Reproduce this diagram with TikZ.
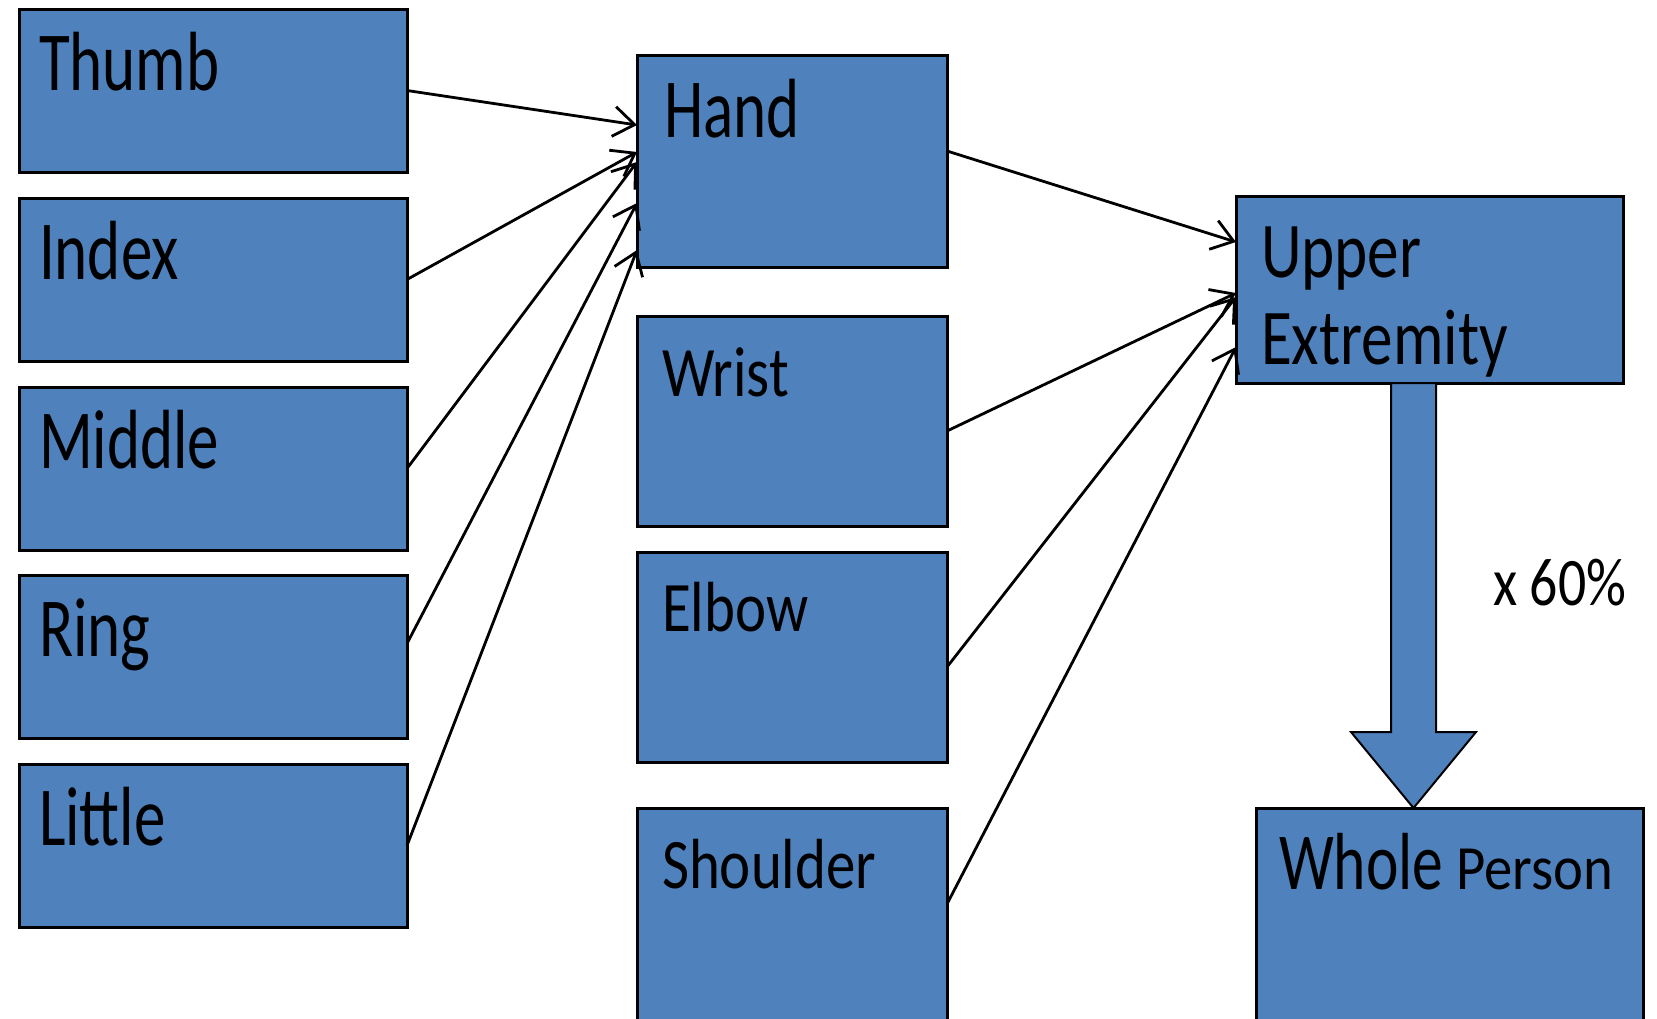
\documentclass[tikz,border=0pt]{standalone}
\usepackage{fontspec}
\usepackage{graphicx}
\setmainfont{Carlito}
\newfontfamily\fbig[FakeStretch=0.75]{Carlito}
\newfontfamily\fmid[FakeStretch=0.83]{Carlito}
\newfontfamily\fue[FakeStretch=0.80]{Carlito}
\newfontfamily\fwh[FakeStretch=0.76]{Carlito}
\newfontfamily\fpe[FakeStretch=0.90]{Carlito}
\newfontfamily\fpct[FakeStretch=0.82]{Carlito}
\usetikzlibrary{arrows.meta,calc}
\definecolor{boxblue}{RGB}{79,129,189}
\begin{document}
\begin{tikzpicture}[x=1pt,y=-1pt,
  box/.style={draw=black, line width=3pt, fill=boxblue, inner sep=0pt, outer sep=0pt, anchor=north west},
  fingerbox/.style={box, minimum width=388pt, minimum height=163pt},
  midbox/.style={box, minimum width=310pt},
  lbl/.style={inner sep=0pt, outer sep=0pt, anchor=base west},
  bigtxt/.style={lbl, font=\fbig\fontsize{84}{84}\selectfont},
  midtxt/.style={lbl, font=\fmid\fontsize{71}{71}\selectfont},
  uetxt/.style={lbl, font=\fue\fontsize{79}{79}\selectfont},
  conn/.style={line width=2.8pt, -{Straight Barb[length=21pt,width=30pt]}},
  bigarrow/.style={draw=black, line width=2pt, fill=boxblue, line join=miter}]
\useasboundingbox (0,0) rectangle (1657,1018);
\clip (0,0) rectangle (1657,1018);

% left column
\node[fingerbox] (thumb)  at (19,9)   {};
\node[fingerbox] (index)  at (19,198) {};
\node[fingerbox] (middle) at (19,387) {};
\node[fingerbox] (ring)   at (19,575) {};
\node[fingerbox] (little) at (19,764) {};

% middle column
\node[midbox, minimum height=212pt] (hand)     at (637,55)  {};
\node[midbox, minimum height=210pt] (wrist)    at (637,316) {};
\node[midbox, minimum height=210pt] (elbow)    at (637,552) {};
\node[midbox, minimum height=260pt] (shoulder) at (637,808) {};

% right column
\node[box, minimum width=387pt, minimum height=187pt] (ue)    at (1236,196) {};
\node[box, minimum width=387pt, minimum height=260pt] (whole) at (1256,808) {};

% labels
\node[bigtxt] (thumbt)  at ([shift={(20,81)}]thumb.north west)  {Thumb};
\node[bigtxt] (indext)  at ([shift={(20,81)}]index.north west)  {Index};
\node[bigtxt] (middlet) at ([shift={(20,81)}]middle.north west) {Middle};
\node[bigtxt] (ringt)   at ([shift={(20,81)}]ring.north west)   {Ring};
\node[bigtxt] (littlet) at ([shift={(20,81)}]little.north west) {Little};
\node[bigtxt] (handt)   at ([shift={(27,82)}]hand.north west)   {Hand};
\node[midtxt] (wristt)  at ([shift={(25,80)}]wrist.north west)  {Wrist};
\node[midtxt] (elbowt)  at ([shift={(25,79)}]elbow.north west)  {Elbow};
\node[midtxt] (shouldert) at ([shift={(25,80)}]shoulder.north west) {Shoulder};
\node[uetxt] (uet1) at ([shift={(25,81)}]ue.north west)  {Upper};
\node[uetxt] (uet2) at ([shift={(25,168)}]ue.north west) {Extremity};
\node[lbl] (wholet) at ([shift={(23,81)}]whole.north west)
  {{\fwh\fontsize{81}{81}\selectfont Whole}{\fpe\fontsize{63}{63}\selectfont\ Person}};

% connectors to hand
\draw[conn] (thumb.east) -- ($(hand.north west)+(0,70)$);
\draw[conn] (index.east) -- ($(hand.north west)+(0,97)$);
\draw[conn] (middle.east) -- ($(hand.north west)+(0,107)$);
\draw[conn] ($(ring.east)+(0,-13)$) -- ($(hand.north west)+(0,148)$);
\draw[conn] (little.east) -- ($(hand.north west)+(0,195)$);

% connectors to upper extremity
\draw[conn] ($(hand.east)+(0,-10)$) -- ($(ue.north west)+(0,46)$);
\draw[conn] ($(wrist.east)+(0,10)$) -- ($(ue.north west)+(0,97)$);
\draw[conn] ($(elbow.east)+(0,10)$) -- ($(ue.north west)+(0,101)$);
\draw[conn] ($(shoulder.north east)+(0,96)$) -- ($(ue.north west)+(0,151)$);

% big block arrow
\coordinate (atop) at ($(ue.south west)+(177.5,0)$);
\coordinate (atip) at ($(whole.north west)+(157.5,0)$);
\draw[bigarrow] ($(atop)+(-22.5,0)$) -- ($(atop)+(-22.5,349)$) -- ($(atop)+(-62.5,349)$)
  -- (atip) -- ($(atop)+(62.5,349)$) -- ($(atop)+(22.5,349)$) -- ($(atop)+(22.5,0)$) -- cycle;
\node[lbl, font=\fpct\fontsize{68}{68}\selectfont] (pct) at (1493,605) {x 60\%};
\end{tikzpicture}
\end{document}
